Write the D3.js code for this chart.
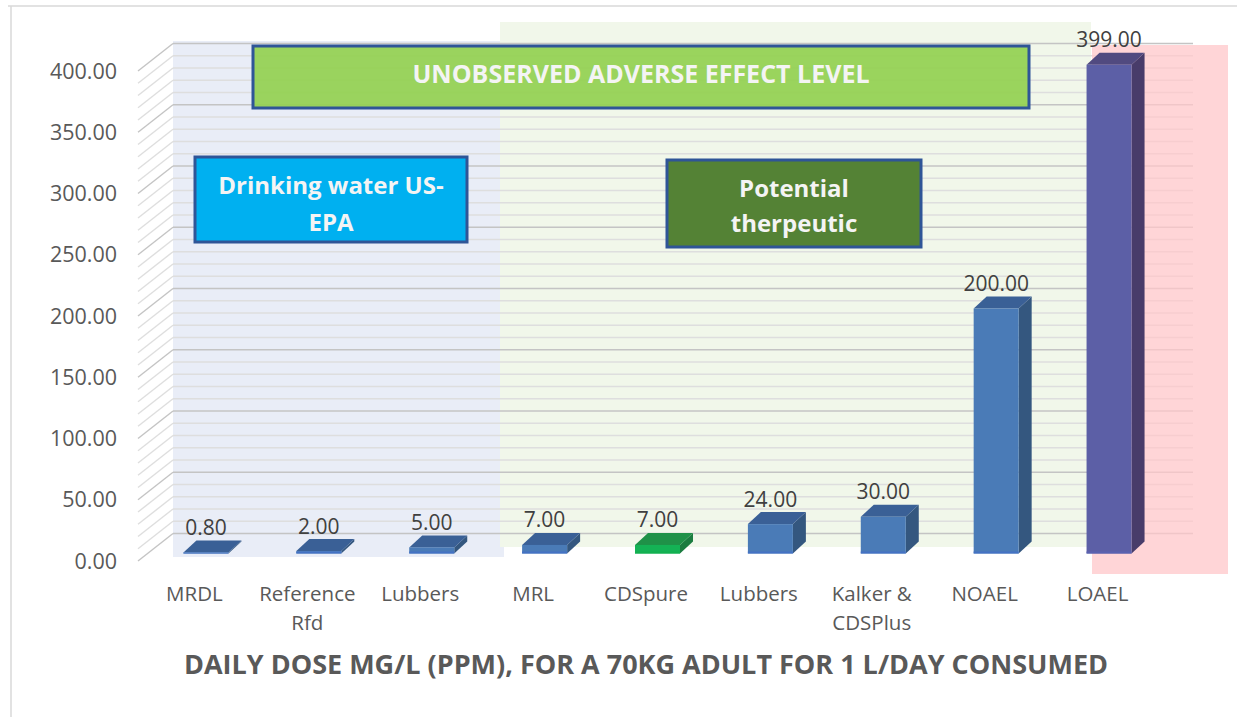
<!DOCTYPE html>
<html>
<head>
<meta charset="utf-8">
<script src="https://cdn.jsdelivr.net/npm/d3@7"></script>
<style>
  body { margin: 0; background: #fff; }
  svg { display: block; font-family: "Open Sans", sans-serif; }
</style>
</head>
<body>
<svg id="chart" width="1237" height="717"></svg>
<script>
// data
var categories = [["MRDL"], ["Reference", "Rfd"], ["Lubbers"], ["MRL"], ["CDSpure"], ["Lubbers"], ["Kalker &", "CDSPlus"], ["NOAEL"], ["LOAEL"]]
var values = [0.8, 2, 5, 7, 7, 24, 30, 200, 399]
var barKind = ["blue", "blue", "blue", "blue", "green", "blue", "blue", "blue", "purple"]
var yTicks = [0, 50, 100, 150, 200, 250, 300, 350, 400]
var xTitle = "DAILY DOSE MG/L (PPM), FOR A 70KG ADULT FOR 1 L/DAY CONSUMED"

var palette = {
    blue:   {front: "#4A7BB7", side: "#34577F", top: "#3A6096", base: "#4472C4"},
    green:  {front: "#14B255", side: "#1B7C40", top: "#1F9148", base: "#12B050"},
    purple: {front: "#5C5FA6", side: "#483C6A", top: "#514A80", base: "#5A62B0"}
}

var svg = d3.select("#chart")

// frame of the figure
svg.append("line").attr("x1", 8).attr("x2", 1237).attr("y1", 6).attr("y2", 6)
    .attr("stroke", "#d9d9d9").attr("stroke-width", 1.5)
svg.append("line").attr("x1", 11).attr("x2", 11).attr("y1", 6).attr("y2", 717)
    .attr("stroke", "#d9d9d9").attr("stroke-width", 1.5)

// 3d geometry: front plane and back wall offset
var depth = {dx: 35, dy: -27.5}
var bar = {dx: 11.5, dy: -7.5, w: 45, tx: 13, ty: -12}

var x = d3.scaleBand()
    .domain(d3.range(categories.length))
    .range([138, 1154])

var y = d3.scaleLinear()
    .domain([0, 400])
    .range([561, 71])

// background panels
var panels = svg.append("g")
panels.append("rect").attr("x", 173).attr("y", 41).attr("width", 331).attr("height", 516)
    .attr("fill", "#E9EDF7")
panels.append("rect").attr("x", 500).attr("y", 22).attr("width", 591).attr("height", 525)
    .attr("fill", "#F1F7EA")

// gridlines, back wall + left side wall
var grid = svg.append("g")
d3.range(0, 401, 10).forEach(function(v){
    var major = v % 50 == 0
    var c = major ? "#C4C4C4" : "#DEDEDE"
    grid.append("line")
        .attr("x1", 138 + depth.dx).attr("x2", 1193)
        .attr("y1", y(v) + depth.dy).attr("y2", y(v) + depth.dy)
        .attr("stroke", c).attr("stroke-width", 1.6)
    grid.append("line")
        .attr("x1", 138).attr("x2", 138 + depth.dx)
        .attr("y1", y(v)).attr("y2", y(v) + depth.dy)
        .attr("stroke", c).attr("stroke-width", 1.4)
})

// pink panel sits over the grid, see-through
svg.append("rect").attr("x", 1092).attr("y", 45).attr("width", 136).attr("height", 529)
    .attr("fill", "#FFC7CA").attr("fill-opacity", 0.75)

// y axis labels
svg.append("g").selectAll("text")
    .data(yTicks)
    .enter()
    .append("text")
        .attr("x", 117)
        .attr("y", function(d){ return y(d) })
        .attr("dy", "0.35em")
        .attr("text-anchor", "end")
        .attr("font-size", 21.5)
        .attr("fill", "#595959")
        .text(function(d){ return d.toFixed(2) })

// annotation boxes
function box(bx, by, bw, bh, fill, op, lines, fs, lh, off){
    var g = svg.append("g")
    g.append("rect").attr("x", bx).attr("y", by).attr("width", bw).attr("height", bh)
        .attr("fill", fill).attr("fill-opacity", op)
        .attr("stroke", "#2F5597").attr("stroke-width", 3)
    var start = by + bh/2 - (lines.length - 1) * lh/2 + off
    lines.forEach(function(t, i){
        g.append("text")
            .attr("x", bx + bw/2).attr("y", start + i*lh)
            .attr("dy", "0.35em")
            .attr("text-anchor", "middle")
            .attr("font-size", fs).attr("font-weight", "bold")
            .attr("fill", "#F4F4F4")
            .text(t)
    })
}
box(253, 46, 776, 62, "#92D050", 0.92, ["UNOBSERVED ADVERSE EFFECT LEVEL"], 25, 0, -3)
box(195, 157, 272, 85, "#00B0F0", 1, ["Drinking water US-", "EPA"], 24, 37, 5)
box(667, 160, 254, 87, "#548235", 1, ["Potential", "therpeutic"], 24, 35, 3)

// bars
var bars = svg.append("g")
values.forEach(function(v, i){
    var p = palette[barKind[i]]
    var cx = x(i) + x.bandwidth()/2 + bar.dx
    var x0 = cx - bar.w/2, x1 = cx + bar.w/2
    var yb = y(0) + bar.dy
    var yt = y(v) + bar.dy
    // side
    bars.append("path")
        .attr("d", d3.line()([[x1, yb], [x1 + bar.tx, yb + bar.ty], [x1 + bar.tx, yt + bar.ty], [x1, yt]]))
        .attr("fill", p.side)
    // top
    bars.append("path")
        .attr("d", d3.line()([[x0, yt], [x0 + bar.tx, yt + bar.ty], [x1 + bar.tx, yt + bar.ty], [x1, yt]]))
        .attr("fill", p.top)
    // front
    bars.append("rect")
        .attr("x", x0).attr("y", yt).attr("width", bar.w).attr("height", yb - yt)
        .attr("fill", p.front)
    bars.append("rect")
        .attr("x", x0).attr("y", yb - Math.min(2, yb - yt)).attr("width", bar.w).attr("height", Math.min(2, yb - yt))
        .attr("fill", p.base)
    // value label
    bars.append("text")
        .attr("x", cx).attr("y", yt - 17.5)
        .attr("text-anchor", "middle")
        .attr("font-size", 21)
        .attr("fill", "#404040")
        .text(v.toFixed(2))
})

// category labels
var xl = svg.append("g")
categories.forEach(function(lines, i){
    lines.forEach(function(t, j){
        xl.append("text")
            .attr("x", x(i) + x.bandwidth()/2)
            .attr("y", 594 + j*29)
            .attr("dy", "0.35em")
            .attr("text-anchor", "middle")
            .attr("font-size", 20.5)
            .attr("fill", "#595959")
            .text(t)
    })
})

// axis title
svg.append("text")
    .attr("x", 646).attr("y", 665)
    .attr("dy", "0.35em")
    .attr("text-anchor", "middle")
    .attr("font-size", 27).attr("font-weight", "bold")
    .attr("fill", "#595959")
    .text(xTitle)
</script>
</body>
</html>
